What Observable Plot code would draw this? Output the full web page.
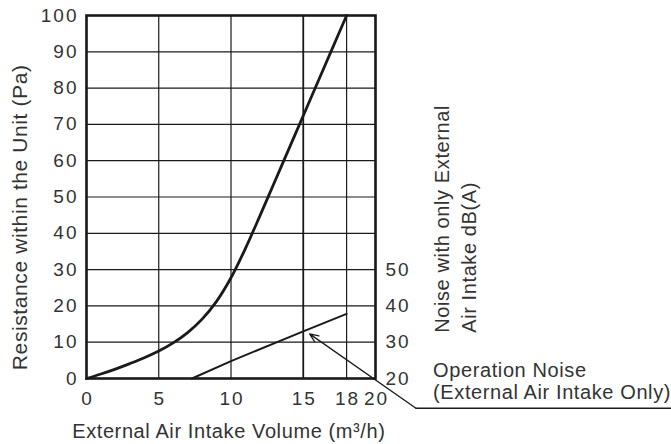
<!DOCTYPE html>
<html>
<head>
<meta charset="utf-8">
<script src="https://cdn.jsdelivr.net/npm/d3@7"></script>
<script src="https://cdn.jsdelivr.net/npm/@observablehq/plot@0.6"></script>
<style>
  html, body { margin: 0; padding: 0; background: #fff; }
  #chart { width: 671px; height: 444px; }
  #chart svg g[aria-label$="tick label"] text { letter-spacing: 2px; }
  #chart svg g[aria-label="text"] text { letter-spacing: 0.6px; }
</style>
</head>
<body>
<div id="chart"></div>
<script>
// Resistance within the unit (Pa) vs external air intake volume (m3/h)
const volume = [0, 1, 2, 3, 4, 5, 6, 7, 8, 9, 10, 11, 12, 13, 14, 15, 16, 17, 18];
const resistance = [0, 1.25, 2.6, 4.1, 5.7, 7.55, 9.8, 12.65, 16.35, 21.25, 27.75, 35.85, 44.8, 54, 63.2, 72.4, 81.6, 90.8, 100];

// Operation noise dB(A) vs external air intake volume
const noiseVolume = [7.3, 10, 15, 18];
const noiseDb = [20, 24.8, 33, 37.8];

// Tick values
const xTicks = [0, 5, 10, 15, 18, 20];
const yTicks = [0, 10, 20, 30, 40, 50, 60, 70, 80, 90, 100];
const noiseTicks = [20, 30, 40, 50];
const noiseBase = 20; // noise 20 dB(A) sits on resistance 0 Pa, 10 dB per 10 Pa

// Annotation leader (in chart units)
const arrowTip = {x: 15.44, y: 12.3};
const arrowElbow = {x: 22.8, y: -8.2};
const leaderEnd = {x: 40.45, y: -8.2};

const resData = volume.map((v, i) => ({x: v, y: resistance[i]}));
const noiseData = noiseVolume.map((v, i) => ({x: v, db: noiseDb[i]}));

const ink = "#1a1a1a";
const txt = "#333";
const lbl = {fontSize: 20, fill: txt, lineAnchor: "middle"};

const chart = Plot.plot({
  width: 671,
  height: 444,
  marginLeft: 86,
  marginRight: 296,
  marginTop: 15,
  marginBottom: 66,
  style: {fontFamily: "'Liberation Sans', Arial, sans-serif", fontSize: "19px", color: txt, background: "#fff", overflow: "visible"},
  x: {domain: [0, 20]},
  y: {domain: [0, 100]},
  marks: [
    Plot.gridX(xTicks, {stroke: ink, strokeOpacity: 1, strokeWidth: d => d === 15 ? 1.8 : 1.2}),
    Plot.gridY(yTicks, {stroke: ink, strokeOpacity: 1, strokeWidth: 1.2}),
    Plot.frame({stroke: ink, strokeWidth: 2.6}),
    Plot.line(resData, {x: "x", y: "y", curve: "catmull-rom", stroke: ink, strokeWidth: 2.8}),
    Plot.line(noiseData, {x: "x", y: d => d.db - noiseBase, stroke: ink, strokeWidth: 2}),
    Plot.axisX(xTicks, {tickSize: 0, tickPadding: 12.5, fontSize: 19, fill: txt, label: null, dx: 1}),
    Plot.axisY(yTicks, {tickSize: 0, tickPadding: 8, fontSize: 19, fill: txt, label: null}),
    Plot.axisY(noiseTicks.map(t => t - noiseBase), {anchor: "right", tickSize: 0, tickPadding: 10, fontSize: 19, fill: txt, label: null, tickFormat: d => String(d + noiseBase)}),
    Plot.arrow([{x1: arrowElbow.x, y1: arrowElbow.y, x2: arrowTip.x, y2: arrowTip.y}], {x1: "x1", y1: "y1", x2: "x2", y2: "y2", stroke: ink, strokeWidth: 1.3, headLength: 11, headAngle: 45}),
    Plot.line([arrowElbow, leaderEnd], {x: "x", y: "y", stroke: ink, strokeWidth: 1.3}),
    Plot.text(["Resistance within the Unit (Pa)"], {...lbl, fontSize: 21, frameAnchor: "bottom-left", textAnchor: "middle", rotate: -90, dx: -66, dy: -161.2}),
    Plot.text(["External Air Intake Volume (m³/h)"], {...lbl, frameAnchor: "bottom-left", textAnchor: "start", dx: -14.3, dy: 53.2}),
    Plot.text(["Noise with only External"], {...lbl, frameAnchor: "bottom-right", textAnchor: "start", rotate: -90, dx: 67.5, dy: -45.7}),
    Plot.text(["Air Intake dB(A)"], {...lbl, frameAnchor: "bottom-right", textAnchor: "start", rotate: -90, dx: 94.3, dy: -45.7}),
    Plot.text(["Operation Noise"], {...lbl, frameAnchor: "bottom-right", textAnchor: "start", dx: 57.6, dy: -8.1}),
    Plot.text(["(External Air Intake Only)"], {...lbl, frameAnchor: "bottom-right", textAnchor: "start", dx: 57.6, dy: 14.2})
  ]
});
document.getElementById("chart").appendChild(chart);
</script>
</body>
</html>
